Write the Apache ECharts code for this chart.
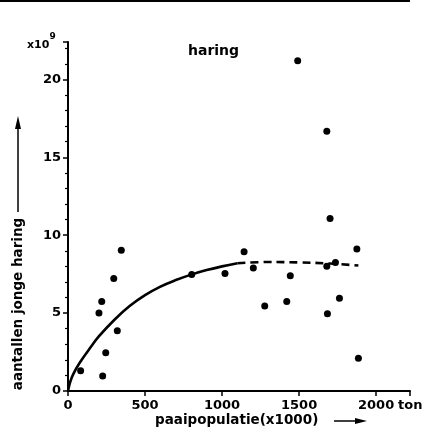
<!DOCTYPE html>
<html>
<head>
<meta charset="utf-8">
<script src="https://cdn.jsdelivr.net/npm/echarts@6/dist/echarts.min.js"></script>
<style>html,body{margin:0;padding:0;background:#fff}#c{width:423px;height:433px}</style>
</head>
<body>
<div id="c"></div>
<script>
// Scatter observations: [paaipopulatie (x1000 ton), aantallen jonge haring (x10^9)]
var points = [
  [82,1.3],[225,0.96],[245,2.45],[201,5.0],[219,5.75],[297,7.22],[320,3.87],[346,9.04],
  [803,7.48],[1019,7.54],[1143,8.93],[1203,7.9],[1277,5.45],[1420,5.75],[1443,7.4],
  [1491,21.2],[1680,16.67],[1680,8.0],[1684,4.96],[1701,11.07],[1736,8.25],[1762,5.96],
  [1875,9.12],[1885,2.1]
];
// Fitted curve, solid part
var curveSolid = [
  [0,0],[15,0.6],[35,1.1],[75,1.8],[150,2.85],[200,3.5],[300,4.56],[400,5.45],[500,6.15],
  [600,6.7],[700,7.12],[800,7.47],[900,7.76],[1000,8.0],[1100,8.2]
];
// Fitted curve, dashed part
var curveDashed = [
  [1100,8.2],[1300,8.28],[1500,8.25],[1700,8.18],[1885,8.05]
];
var xTicks = [0,500,1000,1500,2000];
var yTicks = [0,5,10,15,20];

var font = 'DejaVu Sans';
var chart = echarts.init(document.getElementById('c'), null, {renderer:'canvas'});
chart.setOption({
  animation:false,
  backgroundColor:'#fff',
  grid:{left:68,right:13,top:42,bottom:42,containLabel:false},
  xAxis:{
    type:'value',min:0,max:2220,interval:500,
    axisLine:{lineStyle:{color:'#000',width:2}},
    axisTick:{show:true,length:5,lineStyle:{color:'#000',width:1.5},inside:false},
    minorTick:{show:false},
    splitLine:{show:false},
    axisLabel:{color:'#000',fontFamily:font,fontWeight:'bold',fontSize:13,margin:8,
      formatter:function(v){return xTicks.indexOf(v)>=0?String(v):'';}}
  },
  yAxis:{
    type:'value',min:0,max:22.4,interval:5,
    axisLine:{show:true,lineStyle:{color:'#000',width:2}},
    axisTick:{show:true,length:5,lineStyle:{color:'#000',width:1.5}},
    minorTick:{show:true,splitNumber:5,length:3,lineStyle:{color:'#000',width:1.2}},
    splitLine:{show:false},
    axisLabel:{color:'#000',fontFamily:font,fontWeight:'bold',fontSize:13,margin:7,
      formatter:function(v){return yTicks.indexOf(v)>=0?String(v):'';}}
  },
  series:[
    {type:'line',data:curveSolid,smooth:0.4,showSymbol:false,symbol:'none',
      lineStyle:{color:'#000',width:2.6},z:2},
    {type:'line',data:curveDashed,smooth:0.4,showSymbol:false,symbol:'none',
      lineStyle:{color:'#000',width:2.6,type:[8,5]},z:2},
    {type:'scatter',data:points,symbol:'circle',symbolSize:7,
      itemStyle:{color:'#000',opacity:1},z:3}
  ],
  graphic:[
    {type:'line',shape:{x1:0,y1:1,x2:410,y2:1},style:{stroke:'#000',lineWidth:2}},
    {type:'text',left:188,top:44,style:{text:'haring',fill:'#000',font:'bold 14px "DejaVu Sans"'}},
    {type:'text',left:27,top:32,style:{text:'{a|x10}{b|9}',fill:'#000',
      rich:{a:{fontFamily:font,fontWeight:'bold',fontSize:11,verticalAlign:'bottom',padding:[8,0,0,0]},
            b:{fontFamily:font,fontWeight:'bold',fontSize:9,verticalAlign:'top'}}}},
    {type:'text',x:18,y:304,rotation:Math.PI/2,style:{text:'aantallen jonge haring',fill:'#000',
      font:'bold 13.5px "DejaVu Sans"',align:'center',verticalAlign:'middle'}},
    {type:'line',shape:{x1:18,y1:212,x2:18,y2:126},style:{stroke:'#000',lineWidth:1.5}},
    {type:'polygon',shape:{points:[[18,116],[15,129],[21,129]]},style:{fill:'#000'}},
    {type:'text',x:155,y:420,style:{text:'paaipopulatie(x1000)',fill:'#000',
      font:'bold 13.5px "DejaVu Sans"',align:'left',verticalAlign:'middle'}},
    {type:'line',shape:{x1:334,y1:421,x2:358,y2:421},style:{stroke:'#000',lineWidth:1.5}},
    {type:'polygon',shape:{points:[[367,421],[355,418],[355,424]]},style:{fill:'#000'}},
    {type:'text',x:398,y:406,style:{text:'ton',fill:'#000',
      font:'bold 13px "DejaVu Sans"',align:'left',verticalAlign:'middle'}}
  ]
});
</script>
</body>
</html>
